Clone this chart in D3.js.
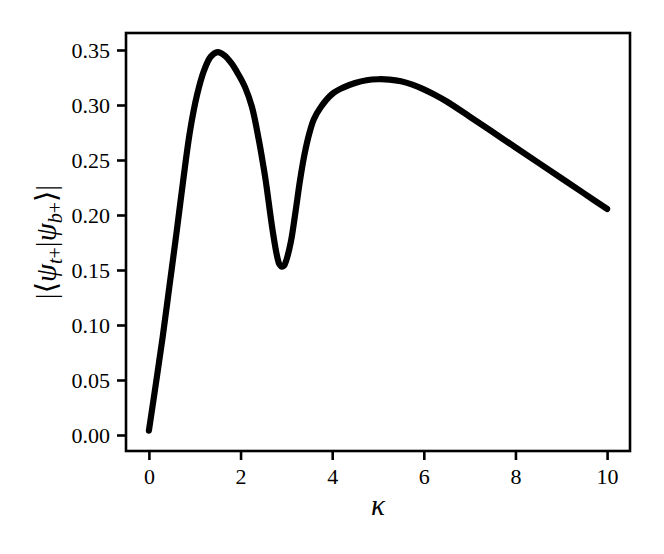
<!DOCTYPE html>
<html>
<head>
<meta charset="utf-8">
<script src="https://cdn.jsdelivr.net/npm/d3@7"></script>
<style>
  html, body { margin: 0; padding: 0; background: #fff; }
  svg { display: block; }
  svg text { font-family: "Liberation Serif", "Times New Roman", Times, serif; }
</style>
</head>
<body>
<svg id="chart" width="664" height="554"></svg>
<script>
// ---- data ----
const kappa = [0, 0.15, 0.3, 0.45, 0.6, 0.75, 0.9, 1.05, 1.2, 1.35, 1.5, 1.65, 1.8, 1.95, 2.1, 2.25,
               2.4, 2.5, 2.55, 2.6, 2.7, 2.8, 2.85, 2.9, 2.95, 3.0, 3.1, 3.2, 3.3, 3.4, 3.5, 3.6, 3.75,
               4.0, 4.25, 4.5, 4.75, 5.0, 5.25, 5.5, 5.75, 6.0, 6.25, 6.5, 7.0, 7.5, 8.0, 8.5, 9.0, 9.5, 10.0];
const overlap = [0.004, 0.046, 0.089, 0.136, 0.183, 0.232, 0.277, 0.309, 0.331, 0.344, 0.348, 0.345, 0.338, 0.328, 0.316, 0.298,
                 0.268, 0.244, 0.231, 0.216, 0.186, 0.162, 0.155, 0.153, 0.154, 0.159, 0.176, 0.203, 0.232, 0.256, 0.274, 0.287, 0.298,
                 0.310, 0.316, 0.320, 0.3225, 0.3234, 0.3231, 0.3216, 0.3185, 0.3142, 0.3090, 0.3032, 0.2895, 0.2755, 0.2615, 0.2475, 0.2335, 0.2195, 0.2055];
const xTicks = [0, 2, 4, 6, 8, 10];
const yTicks = [0.00, 0.05, 0.10, 0.15, 0.20, 0.25, 0.30, 0.35];

const svg = d3.select("#chart");
const pLeft = 126, pRight = 630, pTop = 33, pBottom = 451;

const x = d3.scaleLinear().domain([-0.5, 10.5]).range([pLeft, pRight]);
const y = d3.scaleLinear().domain([-0.01455, 0.36545]).range([pBottom, pTop]);

const font = '"Liberation Serif", "Times New Roman", Times, serif';

// curve
const pts = kappa.map((k, i) => [k, overlap[i]]);
const line = d3.line().x(d => x(d[0])).y(d => y(d[1])).curve(d3.curveCatmullRom.alpha(0.5));
svg.append("path")
  .attr("d", line(pts))
  .attr("fill", "none")
  .attr("stroke", "#000")
  .attr("stroke-width", 6.2)
  .attr("stroke-linecap", "round")
  .attr("stroke-linejoin", "round");

// axes
const xAxis = d3.axisBottom(x).tickValues(xTicks).tickFormat(d3.format("d"))
  .tickSize(9).tickSizeOuter(0).tickPadding(8);
const yAxis = d3.axisLeft(y).tickValues(yTicks).tickFormat(d3.format(".2f"))
  .tickSize(9).tickSizeOuter(0).tickPadding(7);

const gx = svg.append("g").attr("transform", `translate(0,${pBottom})`).call(xAxis);
const gy = svg.append("g").attr("transform", `translate(${pLeft},0)`).call(yAxis);
[gx, gy].forEach(g => {
  g.attr("font-family", null).attr("font-size", null);
  g.select(".domain").remove();
  g.selectAll(".tick line").attr("stroke", "#000").attr("stroke-width", 2.6);
  g.selectAll(".tick text").attr("fill", "#000")
    .attr("font-family", font).attr("font-size", 22);
});

// frame
svg.append("rect")
  .attr("x", pLeft).attr("y", pTop)
  .attr("width", pRight - pLeft).attr("height", pBottom - pTop)
  .attr("fill", "none").attr("stroke", "#000").attr("stroke-width", 2.6);

// x label
svg.append("text")
  .attr("x", (pLeft + pRight) / 2).attr("y", 515)
  .attr("text-anchor", "middle")
  .attr("font-family", font).attr("font-size", 29).attr("font-style", "italic")
  .text("κ");

// y label
const yl = svg.append("text")
  .attr("transform", `translate(55.5,${(pTop + pBottom) / 2}) rotate(-90)`)
  .attr("text-anchor", "middle")
  .attr("font-family", font).attr("font-size", 29);
yl.append("tspan").text("|");
yl.append("tspan").attr("font-family", "'DejaVu Serif', serif").text("⟨");
yl.append("tspan").attr("font-style", "italic").text("ψ");
yl.append("tspan").attr("dy", 6).attr("font-size", 20).attr("font-style", "italic").text("t");
yl.append("tspan").attr("font-size", 20).text("+");
yl.append("tspan").attr("dy", -6).text("|");
yl.append("tspan").attr("font-style", "italic").text("ψ");
yl.append("tspan").attr("dy", 6).attr("font-size", 20).attr("font-style", "italic").text("b");
yl.append("tspan").attr("font-size", 20).text("+");
yl.append("tspan").attr("dy", -6).attr("font-family", "'DejaVu Serif', serif").text("⟩");
yl.append("tspan").text("|");
</script>
</body>
</html>
